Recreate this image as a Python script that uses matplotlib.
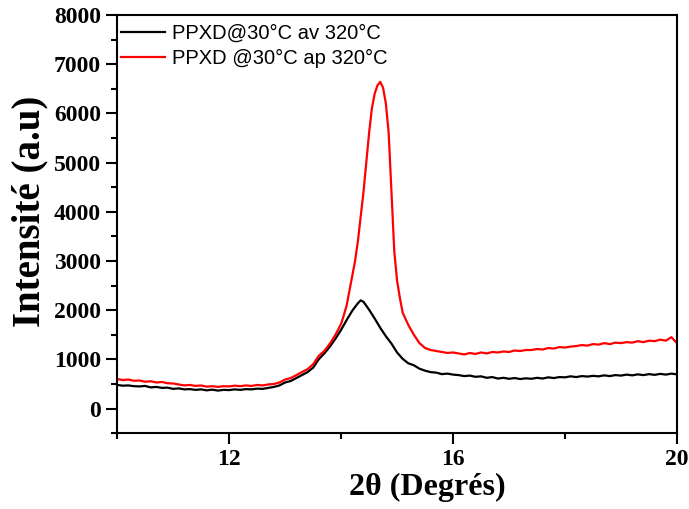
import matplotlib
matplotlib.use("Agg")
import matplotlib.pyplot as plt
from matplotlib.ticker import MultipleLocator

# 2theta / intensity
theta_av = [10.0, 10.1, 10.2, 10.3, 10.4, 10.5, 10.6, 10.7, 10.8, 10.9,
            11.0, 11.1, 11.2, 11.3, 11.4, 11.5, 11.6, 11.7, 11.8, 11.9,
            12.0, 12.1, 12.2, 12.3, 12.4, 12.5, 12.6, 12.7, 12.8, 12.9,
            13.0, 13.1, 13.2, 13.3, 13.4, 13.5, 13.6, 13.7, 13.8, 13.9,
            14.0, 14.1, 14.2, 14.3, 14.35, 14.4, 14.5, 14.6, 14.7, 14.8, 14.9,
            15.0, 15.1, 15.2, 15.3, 15.4, 15.5, 15.6, 15.7, 15.8, 15.9,
            16.0, 16.1, 16.2, 16.3, 16.4, 16.5, 16.6, 16.7, 16.8, 16.9,
            17.0, 17.1, 17.2, 17.3, 17.4, 17.5, 17.6, 17.7, 17.8, 17.9,
            18.0, 18.1, 18.2, 18.3, 18.4, 18.5, 18.6, 18.7, 18.8, 18.9,
            19.0, 19.1, 19.2, 19.3, 19.4, 19.5, 19.6, 19.7, 19.8, 19.9, 20.0]
int_av = [480, 465, 470, 455, 450, 460, 430, 440, 420, 425,
          400, 410, 390, 395, 380, 390, 370, 385, 365, 380,
          375, 390, 380, 395, 390, 405, 400, 420, 440, 470,
          530, 560, 620, 680, 740, 830, 1000, 1120, 1260, 1420,
          1600, 1800, 1990, 2140, 2200, 2170, 2010, 1830, 1640, 1470, 1320,
          1140, 1010, 920, 880, 810, 770, 740, 730, 700, 710,
          690, 680, 660, 670, 645, 655, 625, 640, 610, 625,
          605, 620, 600, 615, 605, 625, 610, 635, 620, 640,
          635, 655, 640, 660, 650, 665, 655, 675, 660, 680,
          670, 690, 675, 695, 680, 700, 685, 705, 690, 710, 695]

theta_ap = [10.0, 10.1, 10.2, 10.3, 10.4, 10.5, 10.6, 10.7, 10.8, 10.9,
            11.0, 11.1, 11.2, 11.3, 11.4, 11.5, 11.6, 11.7, 11.8, 11.9,
            12.0, 12.1, 12.2, 12.3, 12.4, 12.5, 12.6, 12.7, 12.8, 12.9,
            13.0, 13.1, 13.2, 13.3, 13.4, 13.5, 13.6, 13.7, 13.8, 13.9,
            14.0, 14.05, 14.1, 14.15, 14.2, 14.25, 14.3, 14.35, 14.4, 14.45,
            14.5, 14.55, 14.6, 14.65, 14.7, 14.75, 14.8, 14.85, 14.9, 14.95,
            15.0, 15.05, 15.1, 15.2, 15.3, 15.4, 15.5, 15.6, 15.7, 15.8, 15.9,
            16.0, 16.1, 16.2, 16.3, 16.4, 16.5, 16.6, 16.7, 16.8, 16.9,
            17.0, 17.1, 17.2, 17.3, 17.4, 17.5, 17.6, 17.7, 17.8, 17.9,
            18.0, 18.1, 18.2, 18.3, 18.4, 18.5, 18.6, 18.7, 18.8, 18.9,
            19.0, 19.1, 19.2, 19.3, 19.4, 19.5, 19.6, 19.7, 19.8, 19.9, 20.0]
int_ap = [600, 580, 590, 565, 570, 545, 555, 530, 540, 515,
          510, 490, 470, 480, 460, 470, 445, 455, 440, 455,
          450, 465, 455, 470, 460, 480, 470, 490, 500, 530,
          590, 620, 680, 740, 800, 900, 1070, 1170, 1320, 1500,
          1720, 1900, 2100, 2400, 2700, 3000, 3400, 3900, 4400, 5000,
          5600, 6100, 6400, 6570, 6640, 6520, 6200, 5600, 4400, 3200,
          2600, 2250, 1950, 1700, 1500, 1330, 1230, 1190, 1170, 1150, 1130,
          1140, 1120, 1100, 1130, 1110, 1140, 1120, 1150, 1140, 1160,
          1150, 1180, 1170, 1190, 1190, 1210, 1200, 1230, 1220, 1250,
          1240, 1260, 1270, 1290, 1280, 1310, 1300, 1330, 1310, 1340,
          1330, 1350, 1340, 1370, 1350, 1380, 1370, 1400, 1380, 1450, 1330]

labels = ["PPXD@30°C av 320°C", "PPXD @30°C ap 320°C"]

fig = plt.figure(figsize=(6.89, 5.09), dpi=100)
ax = fig.add_axes([0.170, 0.149, 0.8126, 0.8216])

ax.plot(theta_av, int_av, color="black", lw=1.6, label=labels[0])
ax.plot(theta_ap, int_ap, color="red", lw=1.6, label=labels[1])

ax.set_xlim(10, 20)
ax.set_ylim(-500, 8000)
ax.xaxis.set_major_locator(MultipleLocator(4))
ax.xaxis.set_minor_locator(MultipleLocator(2))
ax.yaxis.set_major_locator(MultipleLocator(1000))
ax.yaxis.set_minor_locator(MultipleLocator(500))

for s in ax.spines.values():
    s.set_linewidth(1.5)

ax.tick_params(which="major", direction="out", length=8, width=1.5,
               top=False, right=False)
ax.tick_params(which="minor", direction="out", length=4, width=1.5,
               top=False, right=False)

tick_font = dict(family="Liberation Serif", weight="bold", size=17)
for lab in ax.get_xticklabels() + ax.get_yticklabels():
    lab.set_fontproperties(tick_font)

ax.set_xlabel("2θ (Degrés)", family="Liberation Serif", weight="bold",
              fontsize=23, labelpad=0)
ax.xaxis.set_label_coords(0.554, -0.095)
ax.set_ylabel("Intensité (a.u)", family="Liberation Serif", weight="bold",
              fontsize=28, labelpad=2)
ax.yaxis.set_label_coords(-0.123, 0.53)

ax.legend(loc="upper left", bbox_to_anchor=(-0.01, 1.0), frameon=False,
          prop=dict(family="Liberation Sans", size=14.5),
          handlelength=2.2, handletextpad=0.35, labelspacing=0.3,
          borderaxespad=0.1, borderpad=0.35)

fig.savefig("out.png", dpi=100)
